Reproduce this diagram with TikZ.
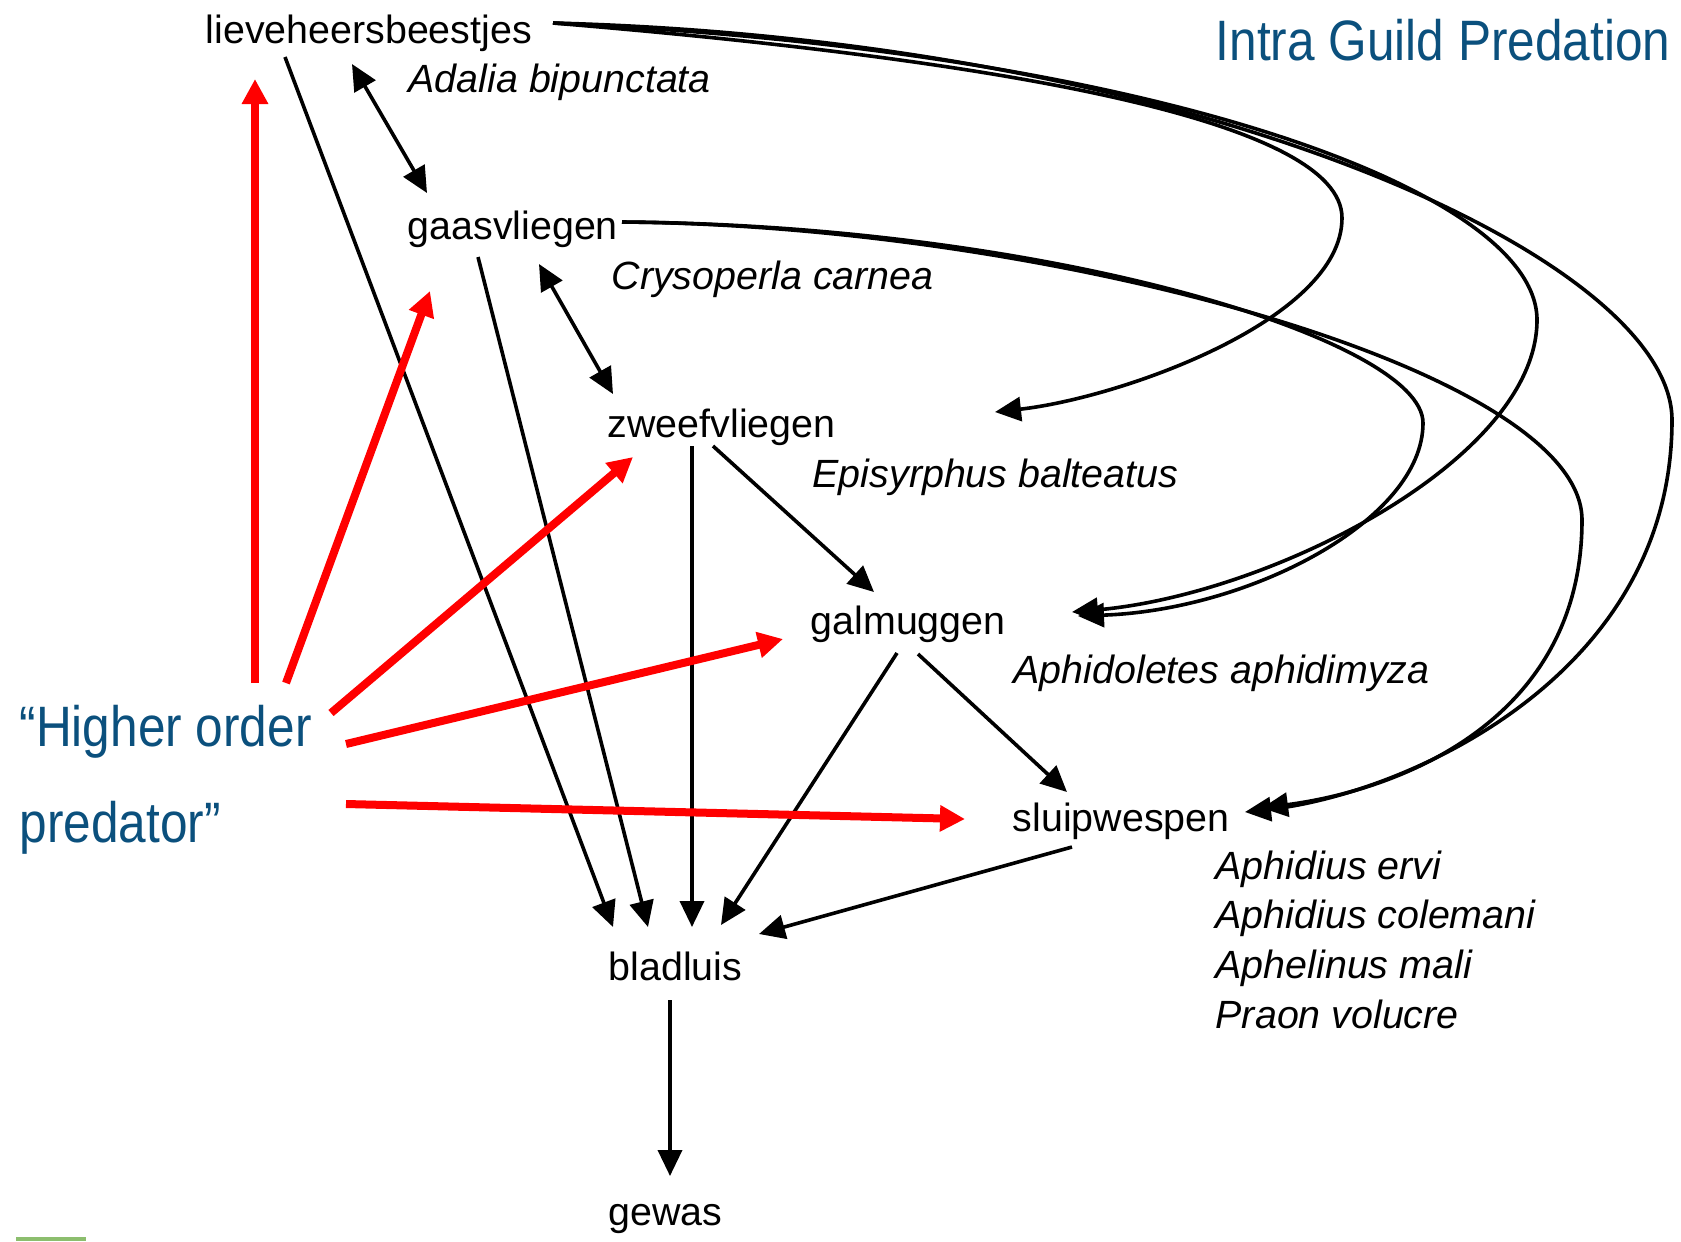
\documentclass[tikz,border=0pt]{standalone}
\usepackage{fontspec}
\setmainfont{Liberation Sans}
\newfontfamily\smalfont[FakeStretch=0.87]{Liberation Sans}
\usetikzlibrary{arrows.meta, calc}
\definecolor{IgpBlue}{RGB}{11,80,125}
\definecolor{IgpRed}{RGB}{255,0,0}
\definecolor{BarGreen}{RGB}{140,190,110}

\begin{document}
\begin{tikzpicture}[
    x=0.01cm, y=-0.01cm,
    font=\fontsize{11.2pt}{14.1pt}\selectfont,
    soort/.style={anchor=base west, inner sep=0pt},
    latijn/.style={soort, font=\fontsize{11.2pt}{14.1pt}\selectfont\itshape},
    blauw/.style={anchor=base west, inner sep=0pt, text=IgpBlue,
        font=\smalfont\fontsize{16.2pt}{27.3pt}\selectfont},
    eet/.style={-{Triangle[length=0.26cm, width=0.24cm]}, line width=0.036cm},
    wederzijds/.style={{Triangle[length=0.26cm, width=0.24cm]}-{Triangle[length=0.26cm, width=0.24cm]},
        line width=0.036cm},
    hogerpijl/.style={-{Triangle[length=0.25cm, width=0.25cm]}, line width=0.08cm, draw=IgpRed},
]
\useasboundingbox (0,0) rectangle (1681,1241);

% soorten in het voedselweb (base = laatste regel)
\node[soort] (lieve) at (205,43) {lieveheersbeestjes};
\node[latijn] (adalia) at (408,92) {Adalia bipunctata};
\node[soort] (gaas) at (407,239) {gaasvliegen};
\node[latijn] (crysoperla) at (611,289) {Crysoperla carnea};
\node[soort] (zweef) at (607,437) {zweefvliegen};
\node[latijn] (episyrphus) at (812,487) {Episyrphus balteatus};
\node[soort] (galm) at (810,634) {galmuggen};
\node[latijn] (aphidoletes) at (1013,683) {Aphidoletes aphidimyza};
\node[soort] (sluip) at (1012,831) {sluipwespen};
\node[latijn, align=left] (sluipsoorten) at (1215,1028)
    {Aphidius ervi\\Aphidius colemani\\Aphelinus mali\\Praon volucre};
\node[soort] (blad) at (608,980) {bladluis};
\node[soort] (gewas) at (608,1225) {gewas};

\node[blauw, align=left] (predator) at (19,842) {“Higher order\\predator”};
\node[blauw] (titel) at (1215,60) {Intra Guild Predation};

% wie eet wie
\draw[wederzijds] ($(lieve.base west)+(147,21)$) -- ($(gaas.base west)+(20,-46)$);
\draw[wederzijds] ($(gaas.base west)+(132,25)$) -- ($(zweef.base west)+(6,-43)$);
\draw[eet] ($(lieve.base west)+(80,14)$) -- ($(blad.base west)+(5,-53)$);
\draw[eet] ($(gaas.base west)+(71,18)$) -- ($(blad.base west)+(40,-53)$);
\draw[eet] ($(zweef.base west)+(85,9)$) -- ($(blad.base west)+(84,-53)$);
\draw[eet] ($(zweef.base west)+(106,9)$) -- ($(galm.base west)+(64,-42)$);
\draw[eet] ($(galm.base west)+(87,19)$) -- ($(blad.base west)+(113,-55)$);
\draw[eet] ($(galm.base west)+(108,20)$) -- ($(sluip.base west)+(55,-39)$);
\draw[eet] ($(sluip.base west)+(60,16)$) -- ($(blad.base west)+(151,-46)$);
\draw[eet] ($(blad.base west)+(62,20)$) -- ($(gewas.base west)+(62,-49)$);

% intra guild predatie (bogen rechts)
\draw[eet] ($(lieve.base west)+(348,-20)$) .. controls (1000,60) and (1342,120) .. (1342,218)
    .. controls (1342,320) and (1120,398) .. ($(zweef.base west)+(388,-25)$);
\draw[eet] ($(lieve.base west)+(348,-20)$) .. controls (1150,50) and (1537,190) .. (1537,320)
    .. controls (1537,460) and (1270,595) .. ($(galm.base west)+(262,-22)$);
\draw[eet] ($(lieve.base west)+(348,-20)$) .. controls (1200,40) and (1672,260) .. (1672,420)
    .. controls (1672,680) and (1400,795) .. ($(sluip.base west)+(233,-19)$);
\draw[eet] ($(gaas.base west)+(215,-17)$) .. controls (1050,225) and (1423,340) .. (1423,423)
    .. controls (1423,520) and (1250,610) .. ($(galm.base west)+(268,-18)$);
\draw[eet] ($(gaas.base west)+(215,-17)$) .. controls (1050,225) and (1582,370) .. (1582,520)
    .. controls (1582,720) and (1400,790) .. ($(sluip.base west)+(250,-23)$);

% hogere predator
\draw[hogerpijl] ($(predator.base west)+(236,-159)$) -- ($(lieve.base west)+(50,36)$);
\draw[hogerpijl] ($(predator.base west)+(267,-159)$) -- ($(gaas.base west)+(23,52)$);
\draw[hogerpijl] ($(predator.base west)+(312,-129)$) -- ($(zweef.base west)+(26,20)$);
\draw[hogerpijl] ($(predator.base west)+(327,-98)$) -- ($(galm.base west)+(-27,5)$);
\draw[hogerpijl] ($(predator.base west)+(327,-38)$) -- ($(sluip.base west)+(-47,-12)$);

\fill[BarGreen] (16,1237) rectangle (86,1241);
\end{tikzpicture}
\end{document}
